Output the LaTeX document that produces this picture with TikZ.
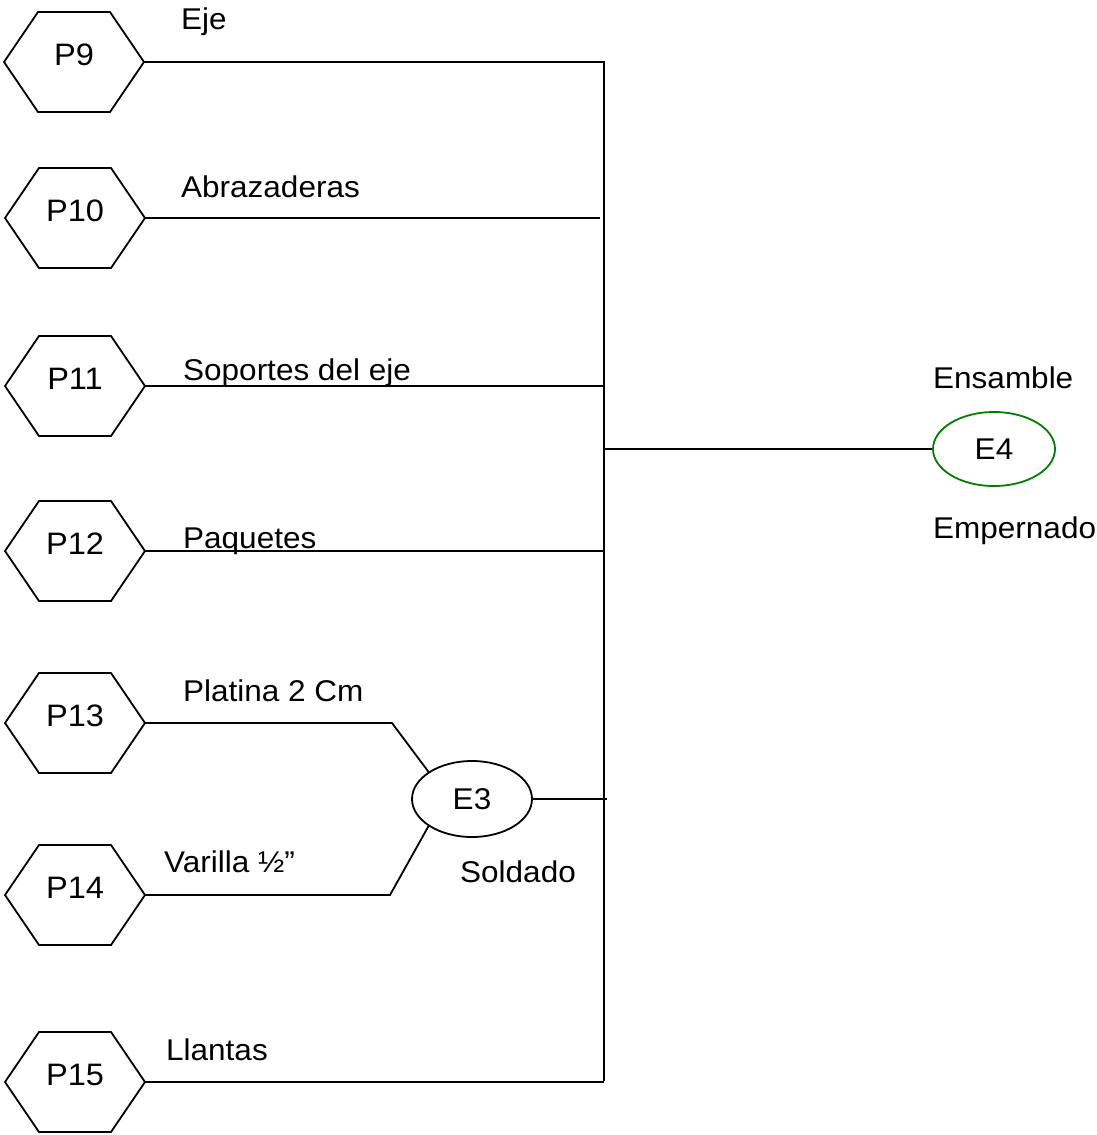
\documentclass[tikz,border=0pt]{standalone}
\usepackage{fontspec}
\setmainfont[FakeStretch=1.05]{Liberation Sans}
\usetikzlibrary{shapes.geometric}
\definecolor{ellgreen}{RGB}{0,128,0}
\tikzset{
  wire/.style={line width=1.8pt, black},
  hexbox/.style={minimum width=140pt, minimum height=100pt, inner sep=0pt, outer sep=0pt},
  hexlabel/.style={font=\fontsize{31}{37}\selectfont, yshift=7pt},
  opell/.style={ellipse, draw, line width=1.8pt, minimum width=120pt, minimum height=76pt,
                inner sep=0pt, font=\fontsize{30}{36}\selectfont},
  caption/.style={anchor=base west, inner sep=0pt, font=\fontsize{30}{36}\selectfont},
}
% flat-topped hexagon around a named box node
\newcommand\hexoutline[1]{%
  \draw[wire, line join=miter] (#1.west) -- ([xshift=34pt]#1.north west)
    -- ([xshift=-34pt]#1.north east) -- (#1.east)
    -- ([xshift=-34pt]#1.south east) -- ([xshift=34pt]#1.south west) -- cycle;}
\begin{document}
\begin{tikzpicture}[x=1pt, y=-1pt]
\useasboundingbox (0,0) rectangle (1097,1135);

% parts
\node[hexbox, label={[hexlabel]center:P9}]  (p9)  at (74,62)   {};
\node[hexbox, label={[hexlabel]center:P10}] (p10) at (75,218)  {};
\node[hexbox, label={[hexlabel]center:P11}] (p11) at (75,386)  {};
\node[hexbox, label={[hexlabel]center:P12}] (p12) at (75,551)  {};
\node[hexbox, label={[hexlabel]center:P13}] (p13) at (75,723)  {};
\node[hexbox, label={[hexlabel]center:P14}] (p14) at (75,895)  {};
\node[hexbox, label={[hexlabel]center:P15}] (p15) at (75,1082) {};
\foreach \h in {p9,p10,p11,p12,p13,p14,p15} {\hexoutline{\h}}

% operations
\node[opell] (e3) at (472,799) {E3};
\node[opell, draw=ellgreen, minimum width=122pt, minimum height=74pt] (e4) at (994,449) {E4};

% collecting bus
\coordinate (bustop) at (604,62);
\coordinate (busbot) at (604,1081);
\coordinate (busmid) at (604,449);
\coordinate (k13) at (392,723);
\coordinate (k14) at (390,895);

\draw[wire] (p9.east) -- (bustop) -- (busbot);
\draw[wire] (p10.east) -- ([xshift=-4pt]p10.east -| bustop);
\draw[wire] (p11.east) -- (p11.east -| bustop);
\draw[wire] (p12.east) -- (p12.east -| bustop);
\draw[wire] (p15.east) -- (p15.east -| bustop);
\draw[wire] (p13.east) -- (k13) -- (e3.148);
\draw[wire] (p14.east) -- (k14) -- (e3.212);
\draw[wire] (e3.east) -- ([xshift=3pt]e3.east -| bustop);
\draw[wire] (busmid) -- (e4.west);

% captions
\node[caption] (t9)  at (181,29)   {Eje};
\node[caption] (t10) at (181,197)  {Abrazaderas};
\node[caption] (t11) at (183,380)  {Soportes del eje};
\node[caption] (t12) at (183,548)  {Paquetes};
\node[caption] (t13) at (183,701)  {Platina 2 Cm};
\node[caption] (t14) at (164,872)  {Varilla ½”};
\node[caption] (t3)  at (460,882)  {Soldado};
\node[caption] (t15) at (166,1060) {Llantas};
\node[caption] (ta)  at (933,388)  {Ensamble};
\node[caption] (tb)  at (933,538)  {Empernado};
\end{tikzpicture}
\end{document}
